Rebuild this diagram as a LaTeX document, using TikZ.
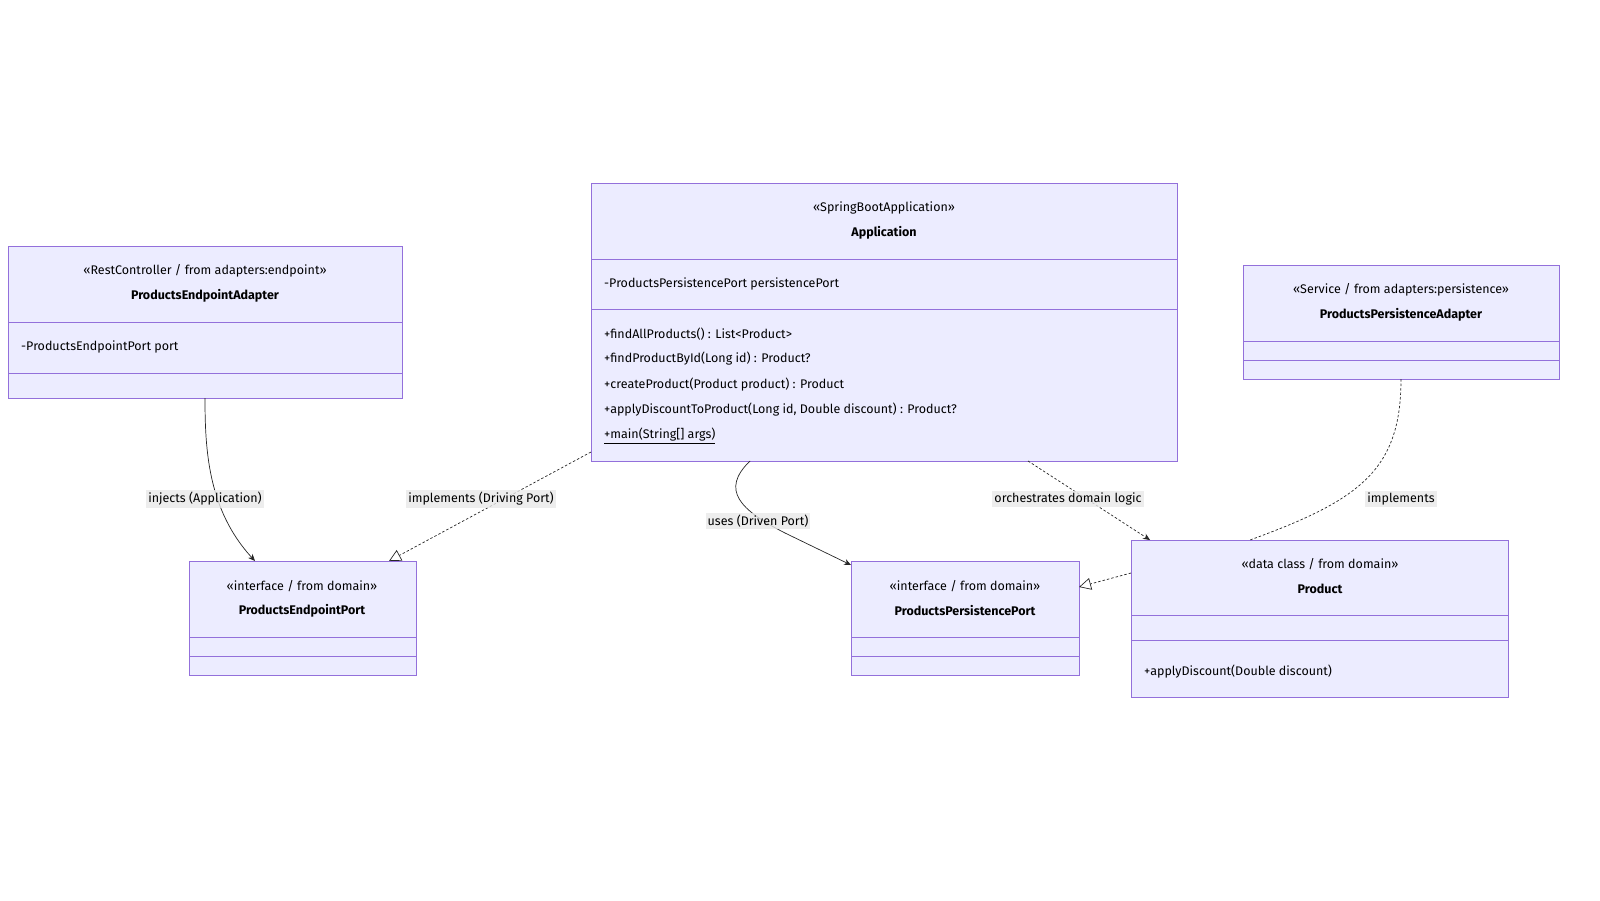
\documentclass[tikz,border=0pt]{standalone}
\usepackage{fontspec}
\setmainfont{Fira Sans}
\usetikzlibrary{arrows.meta}
\definecolor{cfill}{HTML}{ECECFF}
\definecolor{cline}{HTML}{9370DB}
\definecolor{lbg}{HTML}{E8E8E8}
\begin{document}
\begin{tikzpicture}[x=1pt,y=-1pt,
  box/.style={draw=cline,fill=cfill,line width=0.9pt,inner sep=0pt},
  t/.style={font=\fontsize{12.5}{14}\selectfont,inner sep=0pt},
  tb/.style={font=\fontsize{12.5}{14}\selectfont\bfseries,inner sep=0pt},
  lab/.style={font=\fontsize{12.5}{14}\selectfont,fill=lbg,fill opacity=0.8,text opacity=1,inner sep=2pt},
  edge/.style={line width=0.7pt,black!85},
  dsh/.style={edge,dash pattern=on 2.5pt off 2pt},
  arr/.style={-{Stealth[length=7pt,width=6pt]}},
  tri/.style={-{Triangle[open,length=12pt,width=12pt,fill=white]}}]
\useasboundingbox (0,0) rectangle (1600,900);
\newcommand{\umlbox}[7]{% name x1 y1 x2 y2 d1 d2
  \path[box] (#2,#3) rectangle (#4,#5);
  \draw[cline,line width=0.9pt] (#2,#6) -- (#4,#6) (#2,#7) -- (#4,#7);
  \coordinate (#1) at ({(#2+#4)/2},{(#3+#5)/2});}
% boxes
\umlbox{A}{8}{246}{402}{398}{322}{373}
\node[t] at (205,271) {«RestController / from adapters:endpoint»};
\node[tb] at (205,296) {ProductsEndpointAdapter};
\node[t,anchor=west] at (21,347) {-ProductsEndpointPort port};

\umlbox{B}{591}{183}{1177}{461}{259}{309}
\node[t] at (884,208) {«SpringBootApplication»};
\node[tb] at (884,233) {Application};
\node[t,anchor=west] at (604,284) {-ProductsPersistencePort persistencePort};
\node[t,anchor=west] at (604,334) {+findAllProducts() : List<Product>};
\node[t,anchor=west] at (604,359) {+findProductById(Long id) : Product?};
\node[t,anchor=west] at (604,385) {+createProduct(Product product) : Product};
\node[t,anchor=west] at (604,410) {+applyDiscountToProduct(Long id, Double discount) : Product?};
\node[t,anchor=west] at (604,436) {\underline{+main(String[] args)}};

\umlbox{C}{1243}{265}{1559}{379}{341}{360}
\node[t] at (1401,290) {«Service / from adapters:persistence»};
\node[tb] at (1401,315) {ProductsPersistenceAdapter};

\umlbox{D}{189}{561}{416}{675}{637}{656}
\node[t] at (302,586) {«interface / from domain»};
\node[tb] at (302,611) {ProductsEndpointPort};

\umlbox{E}{851}{561}{1079}{675}{637}{656}
\node[t] at (965,586) {«interface / from domain»};
\node[tb] at (965,611) {ProductsPersistencePort};

\umlbox{F}{1131}{540}{1508}{697}{615}{640}
\node[t] at (1320,564) {«data class / from domain»};
\node[tb] at (1320,589) {Product};
\node[t,anchor=west] at (1144,672) {+applyDiscount(Double discount)};

% connectors
\coordinate (a1) at (205,398); \coordinate (d1) at (255,561);
\draw[edge,arr] (a1) .. controls (205,450) and (208,510) .. (d1);
\coordinate (b1) at (591,452); \coordinate (d2) at (389,561);
\draw[dsh,tri] (b1) -- (d2);
\coordinate (b2) at (750,461); \coordinate (e1) at (851,565);
\draw[edge,arr] (b2) .. controls (720,490) and (740,510) .. (785,533) -- (e1);
\coordinate (b3) at (1028,461); \coordinate (f1) at (1150,540);
\draw[dsh,arr] (b3) -- (f1);
\coordinate (c1) at (1401,379); \coordinate (f2) at (1250,540);
\draw[dsh] (c1) .. controls (1401,470) and (1360,500) .. (f2);
\coordinate (f3) at (1131,573); \coordinate (e2) at (1079,587);
\draw[dsh,tri] (f3) -- (e2);
% labels
\node[lab] at (205,499) {injects (Application)};
\node[lab] at (481,499) {implements (Driving Port)};
\node[lab] at (758,521) {uses (Driven Port)};
\node[lab] at (1068,499) {orchestrates domain logic};
\node[lab] at (1401,499) {implements};
\end{tikzpicture}
\end{document}
